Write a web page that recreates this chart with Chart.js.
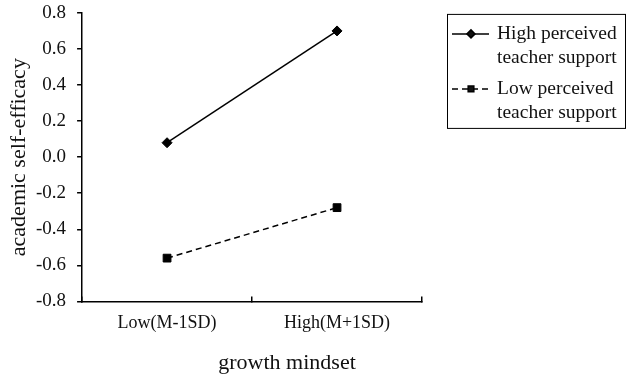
<!DOCTYPE html>
<html>
<head>
<meta charset="utf-8">
<style>
  html, body { margin: 0; padding: 0; background: #fff; }
  #wrap { width: 630px; height: 381px; }
</style>
<script src="https://cdn.jsdelivr.net/npm/chart.js@4"></script>
</head>
<body>
<div id="wrap"><canvas id="chart" width="630" height="381"></canvas></div>
<script>
// data
const categories = ['Low(M-1SD)', 'High(M+1SD)'];
const highSupport = [0.08, 0.70];
const lowSupport = [-0.56, -0.28];
const seriesNames = [['High perceived', 'teacher support'], ['Low perceived', 'teacher support']];
const xTitle = 'growth mindset';
const yTitle = 'academic self-efficacy';

const serif = '"Liberation Serif", "Times New Roman", serif';

// legend box + shifted x title, drawn on the canvas
const extras = {
    id: 'extras',
    afterDraw(chart) {
        const ctx = chart.ctx;
        const area = chart.chartArea;
        ctx.save();

        // x axis title (sits right of centre in the reference)
        ctx.font = '22px ' + serif;
        ctx.fillStyle = '#111';
        ctx.textAlign = 'center';
        ctx.textBaseline = 'middle';
        ctx.fillText(xTitle, (area.left + area.right) / 2 + 35, area.bottom + 62);

        // legend
        const bx = area.right + 25, by = area.top + 1, bw = 178, bh = 114;
        ctx.strokeStyle = '#000';
        ctx.lineWidth = 1;
        ctx.strokeRect(bx + 0.5, by + 0.5, bw, bh);

        ctx.font = '19.5px ' + serif;
        chart.data.datasets.forEach((ds, i) => {
            const y = by + 20 + i * 55;
            ctx.beginPath();
            ctx.setLineDash(ds.borderDash || []);
            ctx.lineWidth = ds.borderWidth;
            ctx.moveTo(bx + 5, y);
            ctx.lineTo(bx + 42, y);
            ctx.stroke();
            ctx.setLineDash([]);
            Chart.helpers.drawPoint(ctx, {
                pointStyle: ds.pointStyle,
                radius: 4,
                borderWidth: 1
            }, bx + 24, y);
            ctx.fillStyle = '#111';
            ctx.textAlign = 'left';
            seriesNames[i].forEach((t, k) => {
                ctx.fillText(t, bx + 50, y + k * 24);
            });
        });
        ctx.restore();
    }
};

new Chart(document.getElementById('chart'), {
    type: 'line',
    data: {
        labels: categories,
        datasets: [{
            label: seriesNames[0].join(' '),
            data: highSupport,
            borderColor: '#000',
            backgroundColor: '#000',
            borderWidth: 1.5,
            pointStyle: 'rectRot',
            pointRadius: 5,
            pointBorderWidth: 1
        }, {
            label: seriesNames[1].join(' '),
            data: lowSupport,
            borderColor: '#000',
            backgroundColor: '#000',
            borderWidth: 1.5,
            borderDash: [6, 4],
            pointStyle: 'rect',
            pointRadius: 5.5,
            pointBorderWidth: 1
        }]
    },
    options: {
        responsive: false,
        animation: false,
        layout: { padding: { left: 5.6, right: 208, top: 10, bottom: 31 } },
        plugins: {
            legend: { display: false },
            tooltip: { enabled: false }
        },
        scales: {
            x: {
                offset: true,
                grid: {
                    offset: true,
                    drawOnChartArea: false,
                    drawTicks: true,
                    tickLength: -5,
                    color: '#000',
                    lineWidth: 1.5
                },
                border: { color: '#000', width: 1.5 },
                ticks: {
                    color: '#111',
                    font: { family: serif, size: 18 },
                    padding: 16
                }
            },
            y: {
                min: -0.8,
                max: 0.8,
                grid: {
                    drawOnChartArea: false,
                    drawTicks: true,
                    tickLength: 5,
                    color: '#000',
                    lineWidth: 1.5
                },
                border: { color: '#000', width: 1.5 },
                ticks: {
                    stepSize: 0.2,
                    color: '#111',
                    padding: 11,
                    font: { family: serif, size: 19, lineHeight: 0.2 },
                    callback: v => v.toFixed(1)
                },
                title: {
                    display: true,
                    text: yTitle,
                    color: '#111',
                    font: { family: serif, size: 22 },
                    padding: { top: 0, bottom: -7 }
                }
            }
        }
    },
    plugins: [extras]
});
</script>
</body>
</html>
